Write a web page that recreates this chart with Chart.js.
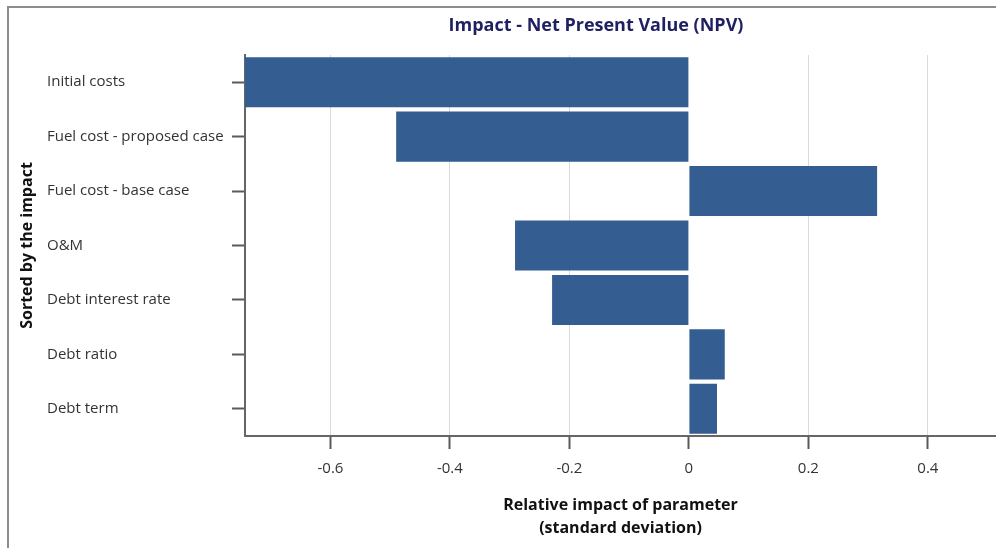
<!DOCTYPE html>
<html>
<head>
<meta charset="utf-8">
<script src="https://cdn.jsdelivr.net/npm/chart.js@4"></script>
<style>
  html, body { margin: 0; padding: 0; background: #fff; overflow: hidden; }
  #wrap { position: relative; width: 996px; height: 548px; }
</style>
</head>
<body>
<div id="wrap"><canvas id="tornado"></canvas></div>
<script>
// Data
var parameters = ['Initial costs', 'Fuel cost - proposed case', 'Fuel cost - base case', 'O&M', 'Debt interest rate', 'Debt ratio', 'Debt term'];
var impacts = [-0.743, -0.49, 0.315, -0.291, -0.229, 0.06, 0.047];
var xMin = -0.743;
var xMax = 0.514;
var tickStep = 0.2;

var chartTitle = 'Impact - Net Present Value (NPV)';
var yTitle = 'Sorted by the impact';
var fontFamily = '"Open Sans", "Noto Sans", sans-serif';

// Frame, chart title and y axis title drawn on the canvas
var framePlugin = {
  id: 'frame',
  beforeDraw: function (chart) {
    var ctx = chart.ctx;
    ctx.save();
    ctx.strokeStyle = '#8c8c8c';
    ctx.lineWidth = 2;
    ctx.beginPath();
    ctx.moveTo(8, chart.height);
    ctx.lineTo(8, 7);
    ctx.lineTo(chart.width, 7);
    ctx.stroke();
    ctx.restore();
  },
  afterDraw: function (chart) {
    var ctx = chart.ctx;
    var area = chart.chartArea;
    ctx.save();
    ctx.font = 'bold 18px ' + fontFamily;
    ctx.fillStyle = '#1f1f62';
    ctx.textAlign = 'center';
    ctx.textBaseline = 'middle';
    ctx.fillText(chartTitle, 596, 26);

    ctx.translate(27, (area.top + area.bottom) / 2);
    ctx.rotate(-Math.PI / 2);
    ctx.font = 'bold 16px ' + fontFamily;
    ctx.fillStyle = '#111';
    ctx.fillText(yTitle, 0, 0);
    ctx.restore();
  }
};

var ctx = document.getElementById('tornado').getContext('2d');
var tornado = new Chart(ctx, {
  type: 'bar',
  data: {
    labels: parameters,
    datasets: [{
      label: 'Impact',
      data: impacts,
      backgroundColor: '#345d91',
      borderWidth: 0,
      barPercentage: 0.92,
      categoryPercentage: 1.0
    }]
  },
  options: {
    indexAxis: 'y',
    responsive: true,
    maintainAspectRatio: false,
    animation: false,
    layout: { padding: { top: 55, left: 47, right: 0, bottom: 8 } },
    plugins: {
      legend: { display: false },
      tooltip: { enabled: false },
      title: { display: false }
    },
    scales: {
      x: {
        min: xMin,
        max: xMax,
        afterBuildTicks: function (axis) {
          axis.ticks = axis.ticks.filter(function (t) {
            var r = t.value / tickStep;
            return Math.abs(r - Math.round(r)) < 1e-6;
          });
        },
        afterFit: function (axis) { axis.height = 104; },
        ticks: {
          stepSize: tickStep,
          color: '#333',
          font: { family: fontFamily, size: 15 },
          padding: 11,
          callback: function (v) { return String(Number(v.toFixed(1))); }
        },
        grid: {
          color: function (c) { return c.tick && c.tick.value === 0 ? 'rgba(0,0,0,0)' : '#dadada'; },
          lineWidth: 1,
          tickColor: '#5a5a5a',
          tickLength: 13,
          tickWidth: 2
        },
        border: { color: '#666', width: 2 },
        title: {
          display: true,
          text: ['Relative impact of parameter', '(standard deviation)'],
          color: '#111',
          font: { family: fontFamily, size: 16, weight: 'bold', lineHeight: 1.45 },
          padding: { top: 14, bottom: 0 }
        }
      },
      y: {
        afterFit: function (axis) { axis.width = 198; },
        ticks: {
          crossAlign: 'far',
          color: '#333',
          font: { family: fontFamily, size: 15 },
          padding: 2
        },
        grid: {
          offset: false,
          drawOnChartArea: false,
          tickColor: '#5a5a5a',
          tickLength: 13,
          tickWidth: 2
        },
        border: { color: '#666', width: 2 }
      }
    }
  },
  plugins: [framePlugin]
});
</script>
</body>
</html>
